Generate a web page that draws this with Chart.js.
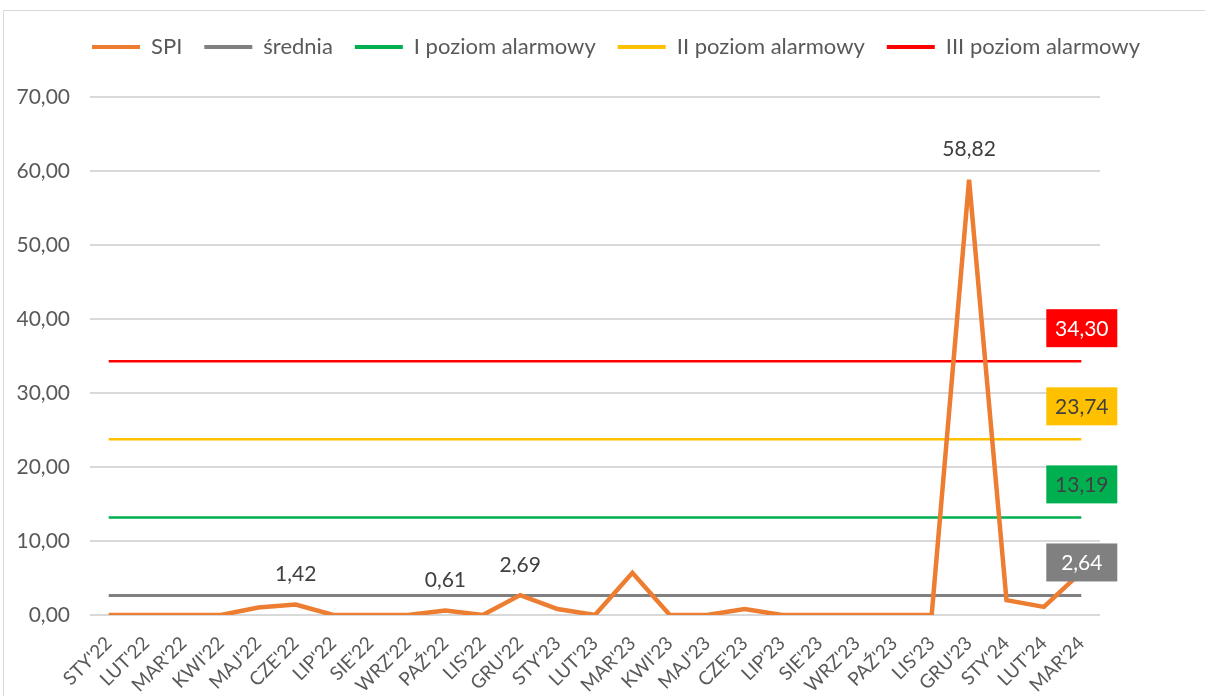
<!DOCTYPE html>
<html>
<head>
<meta charset="utf-8">
<script src="https://cdn.jsdelivr.net/npm/chart.js@4"></script>
<style>
    html, body { margin: 0; padding: 0; background: #fff; }
    #frame { position: absolute; left: 3px; top: 10px; width: 1300px; height: 800px; border: 1px solid #d9d9d9; }
    #wrap { position: absolute; left: 0; top: 0; width: 1205px; height: 696px; }
</style>
</head>
<body>
<div id="frame"></div>
<div id="wrap"><canvas id="chart"></canvas></div>
<script>
const categories = [
    "STY'22", "LUT'22", "MAR'22", "KWI'22", "MAJ'22", "CZE'22", "LIP'22", "SIE'22", "WRZ'22",
    "PAŹ'22", "LIS'22", "GRU'22", "STY'23", "LUT'23", "MAR'23", "KWI'23", "MAJ'23", "CZE'23",
    "LIP'23", "SIE'23", "WRZ'23", "PAŹ'23", "LIS'23", "GRU'23", "STY'24", "LUT'24", "MAR'24"
];
const spi = [0, 0, 0, 0, 1.0, 1.42, 0, 0, 0, 0.61, 0, 2.69, 0.8, 0, 5.7, 0, 0, 0.8, 0, 0, 0, 0, 0, 58.82, 2.0, 1.1, 5.8];
const spiLabels = [5, 9, 11, 23];           // punkty z etykietą
const srednia = 2.64;
const poziomI = 13.19;
const poziomII = 23.74;
const poziomIII = 34.30;
const yTicks = [0, 10, 20, 30, 40, 50, 60, 70];

const FONT = "Lato, 'Open Sans', sans-serif";
const fmt = v => v.toFixed(2).replace(".", ",");

const first = categories[0];
const last = categories[categories.length - 1];
const level = v => [{ x: first, y: v }, { x: last, y: v }];

function lineSet(label, data, color, width) {
    return {
        label: label,
        data: data,
        borderColor: color,
        backgroundColor: color,
        borderWidth: width,
        pointRadius: 0,
        tension: 0,
    };
}

// dodatkowy odstęp pod legendą
const legendGap = {
    id: "legendGap",
    afterInit(chart) {
        const fit = chart.legend.fit;
        chart.legend.fit = function () {
            fit.call(this);
            this.height += 29;
        };
    },
};

const labelPlugin = {
    id: "etykiety",
    afterDatasetsDraw(chart) {
        const ctx = chart.ctx;
        ctx.save();
        ctx.font = "21px " + FONT;
        ctx.textAlign = "center";
        ctx.textBaseline = "middle";

        const meta = chart.getDatasetMeta(0);
        ctx.fillStyle = "#404040";
        spiLabels.forEach(function (i) {
            const p = meta.data[i];
            ctx.fillText(fmt(spi[i]), p.x, p.y - 30);
        });

        // ramki z wartościami poziomów
        const boxes = [
            { ds: 1, value: srednia, bg: "#808080", fg: "#ffffff" },
            { ds: 2, value: poziomI, bg: "#00B050", fg: "#404040" },
            { ds: 3, value: poziomII, bg: "#FFC000", fg: "#404040" },
            { ds: 4, value: poziomIII, bg: "#FF0000", fg: "#ffffff" },
        ];
        boxes.forEach(function (b) {
            const pts = chart.getDatasetMeta(b.ds).data;
            const p = pts[pts.length - 1];
            const cy = p.y - 33;
            ctx.fillStyle = b.bg;
            ctx.fillRect(p.x - 35, cy - 19, 71, 38);
            ctx.fillStyle = b.fg;
            ctx.fillText(fmt(b.value), p.x + 0.5, cy + 1);
        });
        ctx.restore();
    },
};

const chart = new Chart(document.getElementById("chart").getContext("2d"), {
    type: "line",
    data: {
        labels: categories,
        datasets: [
            lineSet("SPI", spi, "#ED7D31", 4.5),
            lineSet("średnia", level(srednia), "#808080", 3),
            lineSet("I poziom alarmowy", level(poziomI), "#00B050", 2.5),
            lineSet("II poziom alarmowy", level(poziomII), "#FFC000", 2.5),
            lineSet("III poziom alarmowy", level(poziomIII), "#FF0000", 2.5),
        ],
    },
    options: {
        responsive: true,
        maintainAspectRatio: false,
        animation: false,
        layout: { padding: { top: 14, left: 0, right: -27, bottom: 0 } },
        plugins: {
            tooltip: { enabled: false },
            legend: {
                position: "top",
                labels: {
                    boxWidth: 48,
                    boxHeight: 4,
                    padding: 22,
                    color: "#595959",
                    font: { family: FONT, size: 22 },
                    generateLabels(chart) {
                        return Chart.defaults.plugins.legend.labels.generateLabels(chart)
                            .map(function (l) { l.lineWidth = 0; return l; });
                    },
                },
            },
        },
        scales: {
            x: {
                offset: true,
                grid: { display: false },
                border: { display: false },
                ticks: {
                    autoSkip: false,
                    maxRotation: 45,
                    minRotation: 45,
                    padding: 9,
                    color: "#595959",
                    font: { family: FONT, size: 19 },
                },
                afterFit(scale) { scale.height = 81; },
            },
            y: {
                min: 0,
                max: 70,
                afterBuildTicks(scale) { scale.ticks = yTicks.map(v => ({ value: v })); },
                grid: { color: "#d9d9d9", lineWidth: 2, drawTicks: false },
                border: { display: false },
                ticks: {
                    padding: 20,
                    color: "#595959",
                    font: { family: FONT, size: 21 },
                    callback: v => fmt(v),
                },
                afterFit(scale) { scale.width = 90; },
            },
            y2: {
                position: "right",
                display: true,
                grid: { display: false },
                border: { display: false },
                ticks: { display: false },
                afterFit(scale) { scale.width = 132; },
            },
        },
    },
    plugins: [legendGap, labelPlugin],
});
</script>
</body>
</html>
